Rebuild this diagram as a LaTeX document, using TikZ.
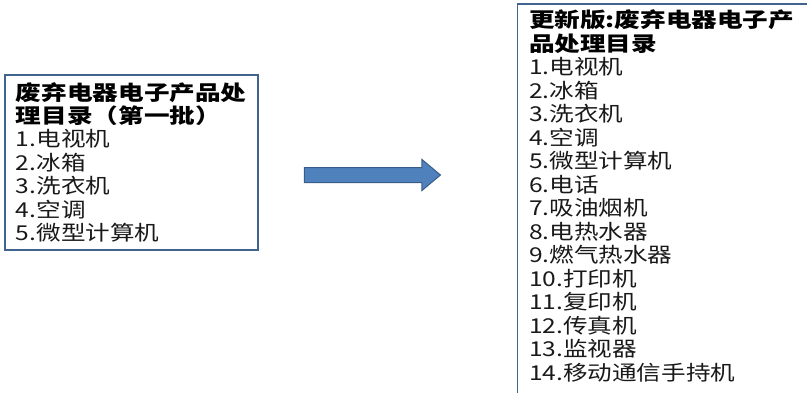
\documentclass[tikz,border=0pt]{standalone}
\usepackage{fontspec}
\setmainfont{Noto Sans CJK SC}[FakeStretch=1.2, BoldFeatures={FakeStretch=1.25}]
\usetikzlibrary{shapes.arrows}
\definecolor{boxline}{HTML}{41648F}
\definecolor{arrowfill}{HTML}{4F81BD}
\definecolor{arrowline}{HTML}{385D8A}
\begin{document}
\begin{tikzpicture}[x=1pt,y=-1pt,
  every node/.style={inner sep=0pt, outer sep=0pt},
  listbox/.style={draw=boxline, line width=1.3pt, anchor=north west},
  itemtxt/.style={anchor=base west, font=\fontsize{20.5}{24}\selectfont, text=black!90},
  titletxt/.style={anchor=base west, font=\fontsize{20.5}{24}\selectfont\bfseries, text=black}]
\useasboundingbox (0,0) rectangle (807,392);
% boxes
\node[listbox, minimum width=253pt, minimum height=175pt] (left) at (5,75) {};
\node[listbox, minimum width=300pt, minimum height=400pt] (right) at (517.5,4) {};
% left text
\node[titletxt] (lt1) at (16,100) {废弃电器电子产品处};
\node[titletxt] (lt2) at (16,123.4) {理目录（第一批）};
\foreach [count=\i] \t in {1.电视机,2.冰箱,3.洗衣机,4.空调,5.微型计算机}
  \node[itemtxt] (li\i) at (16,{123.4+23.4*\i}) {\t};
% right text
\node[titletxt] (rt1) at (529,27.6) {更新版:废弃电器电子产};
\node[titletxt] (rt2) at (529,51.1) {品处理目录};
\foreach [count=\i] \t in {1.电视机,2.冰箱,3.洗衣机,4.空调,5.微型计算机,6.电话,7.吸油烟机,8.电热水器,9.燃气热水器,10.打印机,11.复印机,12.传真机,13.监视器,14.移动通信手持机}
  \node[itemtxt] (ri\i) at (529,{51.1+23.53*\i}) {\t};
% arrow
\node[single arrow, draw=arrowline, fill=arrowfill, line width=1pt,
      inner xsep=0pt, inner ysep=7pt, minimum height=136pt,
      single arrow head extend=8pt, single arrow tip angle=80] (arr) at (368,175) {};
\end{tikzpicture}
\end{document}
